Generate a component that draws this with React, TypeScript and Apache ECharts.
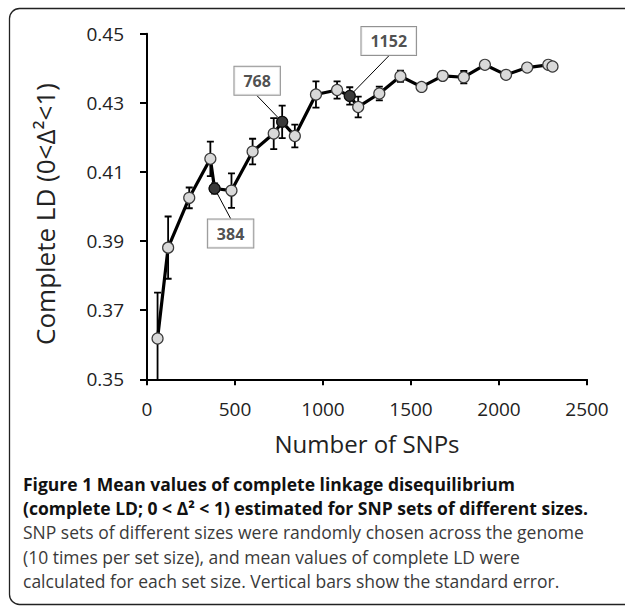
import React, { useEffect, useRef } from "react";
import * as echarts from "echarts";

// ---- data ----
const SNP_COUNTS = [60, 120, 240, 360, 384, 480, 600, 720, 768, 840, 960, 1080, 1152, 1200, 1320, 1440, 1560, 1680, 1800, 1920, 2040, 2160, 2280, 2304];
const MEAN_LD = [0.3618, 0.3881, 0.4025, 0.4138, 0.4052, 0.4046, 0.4159, 0.4211, 0.4245, 0.4204, 0.4324, 0.4337, 0.4320, 0.4288, 0.4327, 0.4377, 0.4346, 0.4378, 0.4374, 0.4410, 0.4381, 0.4402, 0.4410, 0.4405];
const STD_ERR = [0.0133, 0.009, 0.003, 0.005, 0.0015, 0.005, 0.0037, 0.0045, 0.0047, 0.0033, 0.0038, 0.0025, 0.0025, 0.003, 0.002, 0.0016, 0.001, 0.0012, 0.0018, 0.001, 0.001, 0.0008, 0.0008, 0.0008];
const HIGHLIGHTED = [384, 768, 1152];
const X_TICKS = [0, 500, 1000, 1500, 2000, 2500];
const Y_TICKS = [0.35, 0.37, 0.39, 0.41, 0.43, 0.45];

const X_NAME = "Number of SNPs";
const Y_NAME = "Complete LD (0<Δ²<1)";
const CAPTION_BOLD = [
  "Figure 1 Mean values of complete linkage disequilibrium",
  "(complete LD; 0 < Δ² < 1) estimated for SNP sets of different sizes.",
];
const CAPTION_TEXT = [
  "SNP sets of different sizes were randomly chosen across the genome",
  "(10 times per set size), and mean values of complete LD were",
  "calculated for each set size. Vertical bars show the standard error.",
];

// label box offsets (dx, dy) relative to the highlighted points
const LABEL_OFFSETS = [
  { dx: 16, dy: 45 },
  { dx: -25, dy: -41 },
  { dx: 39, dy: -55 },
];

const FONT = "'Open Sans', 'Noto Sans', sans-serif";

export default function App() {
  const ref = useRef<HTMLDivElement>(null);

  useEffect(() => {
    if (!ref.current) return;
    const chart = echarts.init(ref.current, undefined, { renderer: "svg" });

    const lineData = SNP_COUNTS.map((x, i) => [x, MEAN_LD[i]]);
    const errData = SNP_COUNTS.map((x, i) => [x, MEAN_LD[i] - STD_ERR[i], MEAN_LD[i] + STD_ERR[i]]);
    const hiData = SNP_COUNTS.map((x, i) => [x, MEAN_LD[i]]).filter((d) => HIGHLIGHTED.includes(d[0]));

    const captionLines: any[] = [];
    const lineGap = 24.2;
    const firstY = 484;
    CAPTION_BOLD.forEach((t, i) => {
      captionLines.push({
        type: "text",
        x: 23,
        y: firstY + i * lineGap,
        style: {
          text: t,
          fontFamily: FONT,
          fontSize: 17.5,
          fontWeight: "bold",
          fill: "#111",
          align: "left",
          verticalAlign: "middle",
        },
      });
    });
    CAPTION_TEXT.forEach((t, i) => {
      captionLines.push({
        type: "text",
        x: 23,
        y: firstY + (i + CAPTION_BOLD.length) * lineGap,
        style: {
          text: t,
          fontFamily: FONT,
          fontSize: 17.5,
          fill: "#3a3a3a",
          align: "left",
          verticalAlign: "middle",
        },
      });
    });

    chart.setOption({
      animation: false,
      backgroundColor: "#fff",
      textStyle: { fontFamily: FONT },
      grid: { left: 147, right: 38, top: 33.7, bottom: 226.7 },
      xAxis: {
        type: "value",
        min: X_TICKS[0],
        max: X_TICKS[X_TICKS.length - 1],
        interval: 500,
        name: X_NAME,
        nameLocation: "middle",
        nameGap: 52,
        nameTextStyle: { fontSize: 24, color: "#222", fontFamily: FONT },
        axisLine: { show: true, lineStyle: { color: "#000", width: 2 } },
        axisTick: { show: true, length: 6, lineStyle: { color: "#000", width: 2 } },
        axisLabel: {
          fontSize: 19,
          color: "#222",
          margin: 20,
          fontFamily: FONT,
          formatter: (v: number) => String(v),
        },
        splitLine: { show: false },
      },
      yAxis: {
        type: "value",
        min: Y_TICKS[0],
        max: Y_TICKS[Y_TICKS.length - 1],
        axisLine: { show: true, lineStyle: { color: "#000", width: 2 } },
        axisTick: { show: true, length: 7, customValues: Y_TICKS, lineStyle: { color: "#000", width: 2 } },
        axisLabel: {
          customValues: Y_TICKS,
          fontSize: 19,
          color: "#222",
          margin: 23,
          fontFamily: FONT,
          formatter: (v: number) => v.toFixed(2),
        },
        splitLine: { show: false },
      },
      graphic: [
        {
          type: "rect",
          shape: { x: 9.5, y: 8.5, width: 640, height: 596, r: 10 },
          style: { fill: "none", stroke: "#222", lineWidth: 1.3 },
          silent: true,
          z: -1,
        },
        {
          type: "text",
          x: 45,
          y: 214,
          rotation: Math.PI / 2,
          style: {
            text: Y_NAME,
            fontFamily: FONT,
            fontSize: 26,
            fill: "#222",
            align: "center",
            verticalAlign: "middle",
          },
        },
        ...captionLines,
      ],
      series: [
        {
          type: "custom",
          name: "SE",
          z: 1,
          clip: true,
          data: errData,
          renderItem: (params: any, api: any) => {
            const x = api.value(0);
            const lo = api.coord([x, api.value(1)]);
            const hi = api.coord([x, api.value(2)]);
            const w = 3.5;
            const st = { stroke: "#000", lineWidth: 1.8 };
            return {
              type: "group",
              children: [
                { type: "line", shape: { x1: lo[0], y1: lo[1], x2: hi[0], y2: hi[1] }, style: st },
                { type: "line", shape: { x1: hi[0] - w, y1: hi[1], x2: hi[0] + w, y2: hi[1] }, style: st },
                { type: "line", shape: { x1: lo[0] - w, y1: lo[1], x2: lo[0] + w, y2: lo[1] }, style: st },
              ],
            };
          },
        },
        {
          type: "line",
          name: "Mean LD",
          z: 3,
          data: lineData,
          symbol: "circle",
          symbolSize: 11,
          showAllSymbol: true,
          lineStyle: { color: "#000", width: 3.2 },
          itemStyle: { color: "#d9d9d9", borderColor: "#3a3a3a", borderWidth: 1.2 },
        },
        {
          type: "scatter",
          name: "Highlighted",
          z: 5,
          data: hiData,
          symbol: "circle",
          symbolSize: 11,
          itemStyle: { color: "#111", borderColor: "#000", borderWidth: 1 },
          label: {
            show: true,
            position: "inside",
            formatter: (p: any) => String(p.value[0]),
            fontFamily: FONT,
            fontSize: 16,
            fontWeight: "bold",
            color: "#222",
            backgroundColor: "#fff",
            borderColor: "#777",
            borderWidth: 1,
            padding: [6, 9],
          },
          labelLayout: (p: any) => LABEL_OFFSETS[p.dataIndex],
          labelLine: { show: true, length2: 0, lineStyle: { color: "#000", width: 1 } },
        },
      ],
    });

    return () => chart.dispose();
  }, []);

  return (
    <div
      ref={ref}
      style={{ position: "absolute", left: 0, top: 0, width: 625, height: 606, background: "#fff" }}
    />
  );
}
